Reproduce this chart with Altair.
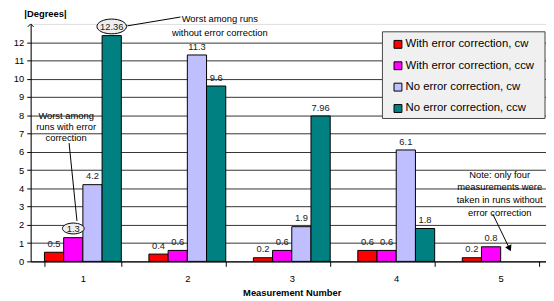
import altair as alt
import pandas as pd

measurements = ["1", "2", "3", "4", "5"]
series = ["With error correction, cw", "With error correction, ccw",
          "No error correction, cw", "No error correction, ccw"]
colors = ["#ff0000", "#ff00ff", "#bfbfff", "#008080"]

with_cw = [0.5, 0.4, 0.2, 0.6, 0.2]
with_ccw = [1.3, 0.6, 0.6, 0.6, 0.8]
no_cw = [4.2, 11.3, 1.9, 6.1]
no_ccw = [12.36, 9.6, 7.96, 1.8]
y_ticks = list(range(0, 13))

rows = []
for s, vals in zip(series, [with_cw, with_ccw, no_cw, no_ccw]):
    for m, v in zip(measurements, vals):
        rows.append({"Measurement": m, "Series": s, "Value": v})
df = pd.DataFrame(rows)

# highlighted (circled) values
hl_big = pd.DataFrame([{"Measurement": "1", "Series": series[3], "Value": 12.36}])
hl_small = pd.DataFrame([{"Measurement": "1", "Series": series[1], "Value": 1.3}])

FONT = "Liberation Sans"
ELLIPSE = ("M-1,0 C-1,-0.276 -0.552,-0.5 0,-0.5 C0.552,-0.5 1,-0.276 1,0 "
           "C1,0.276 0.552,0.5 0,0.5 C-0.552,0.5 -1,0.276 -1,0 Z")

x_enc = alt.X("Measurement:N", sort=measurements,
              scale=alt.Scale(range=[0, 530], paddingInner=0.264, paddingOuter=0.132),
              axis=alt.Axis(title="Measurement Number", labelAngle=0, tickBand="extent",
                            tickSize=5, labelPadding=7, titlePadding=5,
                            titleFontWeight="bold", titleFontSize=9.5, labelFontSize=9.5,
                            domainColor="black", tickColor="black", labelColor="black",
                            titleColor="black", labelFont=FONT, titleFont=FONT, grid=False))
xo_enc = alt.XOffset("Series:N", sort=series, scale=alt.Scale(domain=series))
y_scale = alt.Scale(domain=[0, 13], nice=False)
y_axis = alt.Axis(values=y_ticks, title=None, grid=True, gridColor="#333",
                  gridWidth=1, domainColor="black", tickColor="black",
                  tickSize=4, labelPadding=3, labelFontSize=9.5,
                  labelOverlap=False, labelColor="black", labelFont=FONT)
y_enc = alt.Y("Value:Q", scale=y_scale, axis=y_axis)

bars = alt.Chart(df).mark_bar(stroke="black", strokeWidth=1).encode(
    x=x_enc, xOffset=xo_enc, y=y_enc,
    color=alt.Color("Series:N", sort=series,
                    scale=alt.Scale(domain=series, range=colors),
                    legend=alt.Legend(title=None, orient="none", legendX=367, legendY=15,
                                      symbolType="square", symbolSize=64,
                                      symbolStrokeColor="black", symbolStrokeWidth=1,
                                      labelFontSize=11.5, labelFont=FONT, labelColor="black",
                                      labelOffset=2, rowPadding=8.7, padding=0)),
)

legend_box = alt.Chart(alt.Data(values=[{}])).mark_rect(
    fill="#f0f0f0", stroke="#444", strokeWidth=1).encode(
    x=alt.value(357), x2=alt.value(522), y=alt.value(8), y2=alt.value(96))

ell_big = alt.Chart(hl_big).mark_point(
    shape=ELLIPSE, size=900, filled=True, fill="#eeeeee", stroke="black",
    strokeWidth=1, opacity=1, yOffset=-9.3).encode(x=x_enc, xOffset=xo_enc, y=y_enc)
ell_small = alt.Chart(hl_small).mark_point(
    shape=ELLIPSE, size=484, filled=True, fill="#eeeeee", stroke="black",
    strokeWidth=1, opacity=1, yOffset=-9.3).encode(x=x_enc, xOffset=xo_enc, y=y_enc)

labels = alt.Chart(df).mark_text(baseline="middle", dy=-8.5, fontSize=9.5,
                                 font=FONT, color="#222").encode(
    x=x_enc, xOffset=xo_enc, y=y_enc, text=alt.Text("Value:Q", format=".4~g"))

one = alt.Data(values=[{}])


def txt(s, x, y, **kw):
    return alt.Chart(one).mark_text(text=s, font=FONT, fontSize=9.5, color="black",
                                    align="center", baseline="middle", **kw).encode(
        x=alt.value(x), y=alt.value(y))


def line(x1, y1, x2, y2):
    return alt.Chart(one).mark_rule(color="black", strokeWidth=1).encode(
        x=alt.value(x1), y=alt.value(y1), x2=alt.value(x2), y2=alt.value(y2))


ylabel = txt("|Degrees|", 15, -10, fontWeight="bold")
yarrow = alt.Chart(one).mark_point(shape="M-1,1 L0,0 L1,1", size=36, filled=False,
                                   stroke="black", strokeWidth=1, opacity=1).encode(
    x=alt.value(0), y=alt.value(0))

ann1 = txt(["Worst among runs", "without error correction"], 192, -5, lineHeight=14)
ann1_line = line(98, 2, 152, -7)
ann2 = txt(["Worst among", "runs with error", "correction"], 36, 93, lineHeight=11.5)
ann2_line = line(39, 121, 47, 200)
note = txt(["Note: only four", "measurements were", "taken in runs without",
            "error correction"], 476, 153, lineHeight=13)
note_line = line(469, 193, 485, 226)
note_head = alt.Chart(one).mark_point(shape="triangle-down", size=50, filled=True,
                                      color="black", angle=335, opacity=1).encode(
    x=alt.value(486), y=alt.value(228))

chart = alt.layer(
    bars, legend_box, ell_big, ell_small, labels, ylabel, yarrow,
    ann1, ann1_line, ann2, ann2_line, note, note_line, note_head
).properties(
    width=523, height=241,
    autosize=alt.AutoSizeParams(type="none"),
    padding={"left": 23, "top": 14, "right": 0, "bottom": 35},
).configure_view(stroke=None).configure(font=FONT)

chart.save("out.html", embed_options={"renderer": "svg", "actions": False})
